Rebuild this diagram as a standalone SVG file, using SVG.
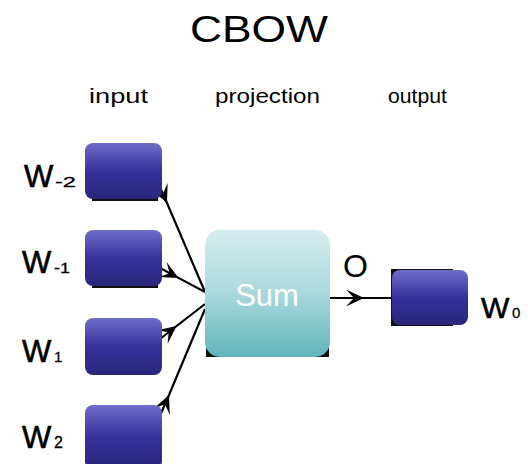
<svg xmlns="http://www.w3.org/2000/svg" width="528" height="464" viewBox="0 0 528 464">
<style>
  text { font-family: "Liberation Sans", Arial, sans-serif; fill: #000; }
  .w { font-size: 31px; stroke: #000; stroke-width: 0.6; }
  .sub { font-size: 15px; stroke: #000; stroke-width: 0.3; }
  .blue { fill: url(#gBlue); }
  .shadow { fill: #111; }
  .conn { stroke: #000; stroke-width: 2.2; fill: none; marker-mid: url(#arrow); }
</style>
<defs>
  <linearGradient id="gBlue" x1="0" y1="0" x2="0" y2="1">
    <stop offset="0" stop-color="#6f6dc8"/>
    <stop offset="0.5" stop-color="#35329c"/>
    <stop offset="1" stop-color="#29277a"/>
  </linearGradient>
  <linearGradient id="gSum" x1="0" y1="0" x2="0" y2="1">
    <stop offset="0" stop-color="#d6edf0"/>
    <stop offset="0.5" stop-color="#a9d8dc"/>
    <stop offset="1" stop-color="#60b5bc"/>
  </linearGradient>
  <marker id="arrow" markerUnits="userSpaceOnUse" markerWidth="20" markerHeight="20" refX="0" refY="0" orient="auto" overflow="visible">
    <path d="M0,0 L-18,-8.5 L-10,0 L-18,8.5 Z" fill="#000"/>
  </marker>
</defs>

<text x="190" y="42" font-size="37" textLength="138" lengthAdjust="spacingAndGlyphs">CBOW</text>
<text x="89" y="103" font-size="21" textLength="59" lengthAdjust="spacingAndGlyphs">input</text>
<text x="215" y="103" font-size="21" textLength="105" lengthAdjust="spacingAndGlyphs">projection</text>
<text x="388" y="103" font-size="21" textLength="59" lengthAdjust="spacingAndGlyphs">output</text>

<g id="connectors">
  <path class="conn" d="M159,185 L167,203 L205,292"/>
  <path class="conn" d="M160,268 L178.5,277.9 L205,292"/>
  <path class="conn" d="M160,339 L176.6,326 L205,304"/>
  <path class="conn" d="M159,418 L169,395 L205,309"/>
  <path class="conn" d="M330,298 L364,298 L392,298"/>
</g>

<g id="w-2">
  <rect class="shadow" x="92" y="150" width="66" height="51"/>
  <rect class="blue" x="85" y="143" width="77" height="56" rx="8"/>
  <text class="w" x="24" y="187">W</text>
  <text class="sub" x="55" y="187" textLength="21" lengthAdjust="spacingAndGlyphs">-2</text>
</g>
<g id="w-1">
  <rect class="shadow" x="92" y="240" width="66" height="48"/>
  <rect class="blue" x="85" y="230" width="77" height="56" rx="8"/>
  <text class="w" x="22" y="273">W</text>
  <text class="sub" x="54" y="273" textLength="16" lengthAdjust="spacingAndGlyphs">-1</text>
</g>
<g id="w1">
  <rect class="blue" x="85" y="318" width="77" height="57" rx="8"/>
  <text class="w" x="22" y="362">W</text>
  <text class="sub" x="54" y="362">1</text>
</g>
<g id="w2">
  <rect class="blue" x="85" y="405" width="77" height="64" rx="8"/>
  <text class="w" x="22" y="448">W</text>
  <text class="sub" x="54" y="448" style="font-size:16px">2</text>
</g>

<g id="sum">
  <rect class="shadow" x="206" y="300" width="123" height="57"/>
  <rect x="205" y="230" width="125" height="127" rx="15" fill="url(#gSum)"/>
  <text x="267" y="306" font-size="31" text-anchor="middle" style="fill:#fff">Sum</text>
</g>

<text x="343" y="277" font-size="32">O</text>

<g id="w0">
  <rect class="shadow" x="391" y="269" width="62" height="57"/>
  <rect class="blue" x="392" y="270" width="76" height="55" rx="8"/>
  <text class="w" x="481" y="318" style="font-size:30px">W</text>
  <text class="sub" x="512" y="318" style="font-size:15px">0</text>
</g>
</svg>
